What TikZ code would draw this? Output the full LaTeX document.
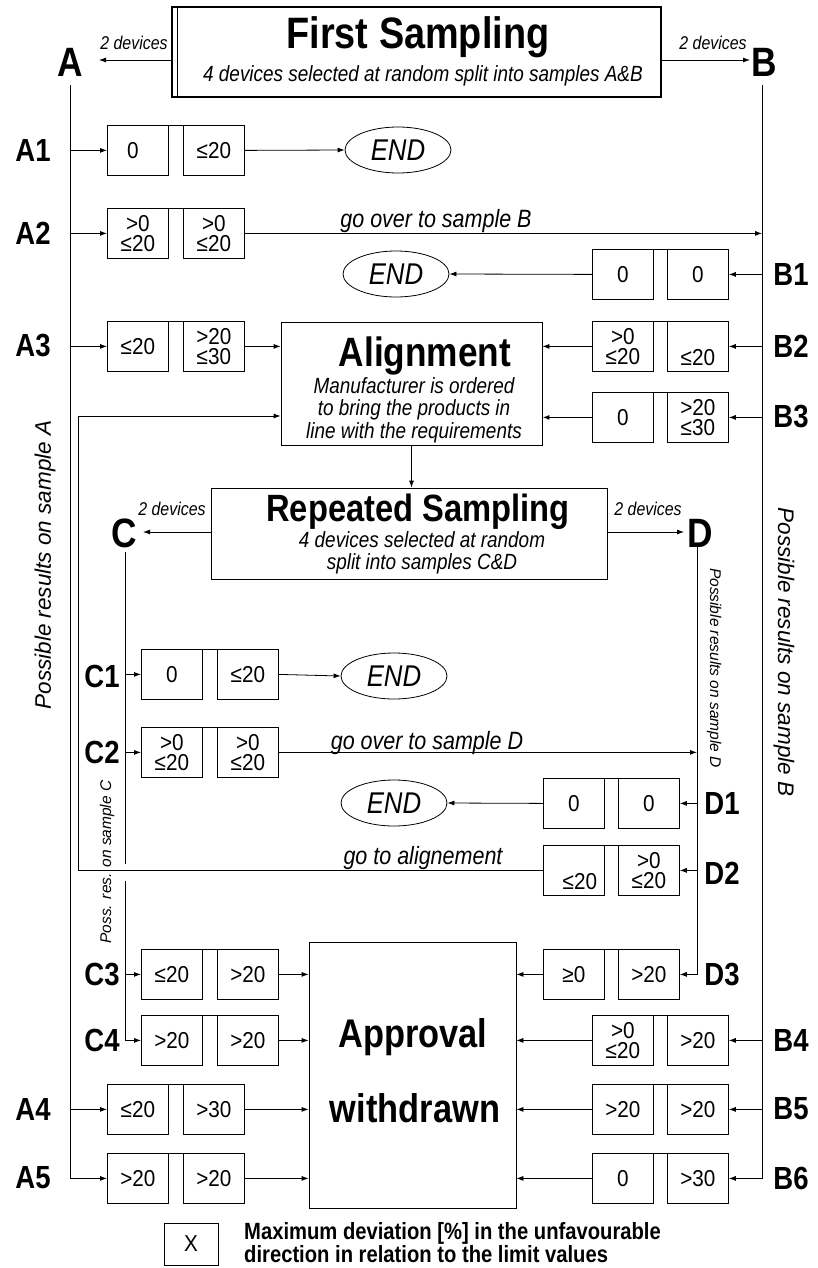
\documentclass[tikz,border=0pt]{standalone}
\usepackage{fontspec}
\setmainfont{Liberation Sans}
\newfontfamily\nrw[FakeStretch=0.86]{Liberation Sans}
\newfontfamily\cellf[FakeStretch=0.9]{Liberation Sans}
\usetikzlibrary{arrows.meta,shapes.geometric}
\tikzset{
 ln/.style={line width=0.8pt},
 arr/.style={ln,-{Latex[length=7pt,width=5pt]}},
 cell/.style={draw,ln,minimum width=61pt,minimum height=50pt,inner sep=0pt,anchor=north west,align=center,font=\cellf\fontsize{23}{20.5}\selectfont},
 bigbox/.style={draw,ln,inner sep=0pt},
 endnode/.style={draw,ln,ellipse,minimum width=106pt,minimum height=46pt,inner sep=0pt,font=\nrw\itshape\fontsize{30}{30}\selectfont},
 rowlab/.style={font=\nrw\bfseries\fontsize{32}{32}\selectfont,inner sep=0pt},
 letter/.style={font=\nrw\bfseries\fontsize{41}{41}\selectfont,inner sep=0pt},
 headtxt/.style={font=\nrw\bfseries\fontsize{#1}{#1}\selectfont,inner sep=0pt,anchor=base},
 subtxt/.style={font=\nrw\itshape\fontsize{22}{22.5}\selectfont,align=center,inner sep=0pt},
 devs/.style={font=\nrw\itshape\fontsize{18.5}{18.5}\selectfont,inner sep=0pt},
 gototxt/.style={font=\nrw\itshape\fontsize{25}{25}\selectfont,inner sep=0pt},
 bigrot/.style={font=\itshape\fontsize{22.5}{22.5}\selectfont,inner sep=0pt},
 smallrot/.style={font=\itshape\fontsize{15.5}{15.5}\selectfont,inner sep=0pt},
}
\begin{document}
\begin{tikzpicture}[x=1pt,y=-1pt]
\useasboundingbox (0,0) rectangle (817,1268);

% ---- main boxes
\node[bigbox,line width=1.6pt,minimum width=489pt,minimum height=90pt] (fs) at (416.5,52) {};
\draw[ln] ([xshift=6pt]fs.north west) -- ([xshift=6pt]fs.south west);
\node[headtxt=44] (fst) at (418,49) {First Sampling};
\node[subtxt] (fss) at (423,76) {4 devices selected at random split into samples A\&B};

\node[bigbox,minimum width=261pt,minimum height=123pt] (al) at (411.5,383.5) {};
\node[headtxt=41] (alt) at (425,366) {Alignment};
\node[subtxt] (als) at (414,410) {Manufacturer is ordered\\to bring the products in\\line with the requirements};

\node[bigbox,minimum width=396pt,minimum height=91pt] (rs) at (409,533.5) {};
\node[headtxt=38] (rst) at (418,521) {Repeated Sampling};
\node[subtxt] (rss) at (422,553) {4 devices selected at random\\split into samples C\&D};

\node[bigbox,minimum width=207pt,minimum height=266pt] (ap) at (412.5,1075) {};
\node[headtxt=40] (apt1) at (413,1047) {Approval};
\node[headtxt=40] (apt2) at (415,1122) {withdrawn};

% ---- letters and device arrows
\node[letter] (Alet) at (70,62) {A};
\node[letter] (Blet) at (764,62) {B};
\node[letter] (Clet) at (124,533) {C};
\node[letter] (Dlet) at (700,533) {D};
\node[devs] (dv1) at (134,43) {2 devices};
\node[devs] (dv2) at (713,43) {2 devices};
\node[devs] (dv3) at (172,509) {2 devices};
\node[devs] (dv4) at (648,509) {2 devices};
\coordinate (Aend) at (99,60);
\coordinate (Bend) at (750,60);
\coordinate (Cend) at (143,532);
\coordinate (Dend) at (684,532);
\draw[arr] (Aend -| fs.west) -- (Aend);
\draw[arr] (Bend -| fs.east) -- (Bend);
\draw[arr] (Cend -| rs.west) -- (Cend);
\draw[arr] (Dend -| rs.east) -- (Dend);
\draw[arr] (al.south) -- (al.south |- rs.north);

% ---- cells
\node[cell] (a1l) at (107,125) {0\hspace*{10pt}};
\node[cell] (a1r) at (183,125) {≤20};
\node[cell] (a2l) at (107,208) {>0\\≤20};
\node[cell] (a2r) at (183,208) {>0\\≤20};
\node[cell] (a3l) at (107,321) {≤20};
\node[cell] (a3r) at (183,321) {>20\\≤30};
\node[cell] (a4l) at (107,1084) {≤20};
\node[cell] (a4r) at (183,1084) {>30};
\node[cell] (a5l) at (107,1153) {>20};
\node[cell] (a5r) at (183,1153) {>20};
\node[cell] (b1l) at (592,249) {0};
\node[cell] (b1r) at (667,249) {0};
\node[cell] (b2l) at (592,321) {>0\\≤20};
\node[cell] (b2r) at (667,321) {\strut\\≤20};
\node[cell] (b3l) at (592,392) {0};
\node[cell] (b3r) at (667,392) {>20\\≤30};
\node[cell] (b4l) at (592,1015) {>0\\≤20};
\node[cell] (b4r) at (667,1015) {>20};
\node[cell] (b5l) at (592,1084) {>20};
\node[cell] (b5r) at (667,1084) {>20};
\node[cell] (b6l) at (592,1153) {0};
\node[cell] (b6r) at (667,1153) {>30};
\node[cell] (c1l) at (141,649) {0};
\node[cell] (c1r) at (217,649) {≤20};
\node[cell] (c2l) at (141,727) {>0\\≤20};
\node[cell] (c2r) at (217,727) {>0\\≤20};
\node[cell] (c3l) at (141,949) {≤20};
\node[cell] (c3r) at (217,949) {>20};
\node[cell] (c4l) at (141,1015) {>20};
\node[cell] (c4r) at (217,1015) {>20};
\node[cell] (d1l) at (543,778) {0};
\node[cell] (d1r) at (618,778) {0};
\node[cell] (d2l) at (543,845) {\strut\\\hspace*{12pt}≤20};
\node[cell] (d2r) at (618,845) {>0\\≤20};
\node[cell] (d3l) at (543,949) {≥0};
\node[cell] (d3r) at (618,949) {>20};
\foreach \p/\q in {a1l/a1r,a2l/a2r,a3l/a3r,a4l/a4r,a5l/a5r,b1l/b1r,b2l/b2r,b3l/b3r,b4l/b4r,b5l/b5r,b6l/b6r,c1l/c1r,c2l/c2r,c3l/c3r,c4l/c4r,d1l/d1r,d2l/d2r,d3l/d3r}
  \draw[ln] (\p.north east) -- (\q.north west);

% ---- END ellipses
\node[endnode] (e1) at (398,150) {END};
\node[endnode] (e2) at (396,274) {END};
\node[endnode] (e3) at (394,676) {END};
\node[endnode] (e4) at (394,803) {END};

% ---- row labels
\node[rowlab] (lA1) at (33,150) {A1};
\node[rowlab] (lA2) at (33,233) {A2};
\node[rowlab] (lA3) at (33,346) {A3};
\node[rowlab] (lA4) at (33,1109) {A4};
\node[rowlab] (lA5) at (33,1178) {A5};
\node[rowlab] (lB1) at (791,274) {B1};
\node[rowlab] (lB2) at (791,346) {B2};
\node[rowlab] (lB3) at (791,417) {B3};
\node[rowlab] (lB4) at (791,1040) {B4};
\node[rowlab] (lB5) at (791,1109) {B5};
\node[rowlab] (lB6) at (791,1178) {B6};
\node[rowlab] (lC1) at (102,676) {C1};
\node[rowlab] (lC2) at (102,752) {C2};
\node[rowlab] (lC3) at (102,974) {C3};
\node[rowlab] (lC4) at (102,1040) {C4};
\node[rowlab] (lD1) at (722,803) {D1};
\node[rowlab] (lD2) at (722,873) {D2};
\node[rowlab] (lD3) at (722,974) {D3};

% ---- vertical lines
\coordinate (Atop) at (70,85);
\coordinate (Btop) at (762,85);
\coordinate (Ctop) at (125,552);
\coordinate (Cg1) at (125,864);
\coordinate (Cg2) at (125,881);
\coordinate (Dtop) at (697,547);
\coordinate (Lc) at (78,416);
\draw[arr] (Atop) |- (a5l.west);
\draw[arr] (Btop) |- (b6r.east);
\draw[ln] (Ctop) -- (Cg1);
\draw[arr] (Cg2) |- (c4l.west);
\draw[arr] (Dtop) |- (d3r.east);

% ---- branches A
\draw[arr] (a1l.west -| Atop) -- (a1l.west);
\draw[arr] (a2l.west -| Atop) -- (a2l.west);
\draw[arr] (a3l.west -| Atop) -- (a3l.west);
\draw[arr] (a4l.west -| Atop) -- (a4l.west);
\draw[arr] (a1r.east) -- (e1.west);
\draw[arr] (a2r.east) -- (a2r.east -| Btop);
\draw[arr] (a3r.east) -- (a3r.east -| al.west);
\draw[arr] (a4r.east) -- (a4r.east -| ap.west);
\draw[arr] (a5r.east) -- (a5r.east -| ap.west);
\node[gototxt] (gB) at (436,221) {go over to sample B};

% ---- branches B
\draw[arr] (b1r.east -| Btop) -- (b1r.east);
\draw[arr] (b2r.east -| Btop) -- (b2r.east);
\draw[arr] (b3r.east -| Btop) -- (b3r.east);
\draw[arr] (b4r.east -| Btop) -- (b4r.east);
\draw[arr] (b5r.east -| Btop) -- (b5r.east);
\draw[arr] (b1l.west) -- (e2.east);
\draw[arr] (b2l.west) -- (b2l.west -| al.east);
\draw[arr,line width=1.8pt] (b3l.west) -- (b3l.west -| al.east);
\draw[arr] (b4l.west) -- (b4l.west -| ap.east);
\draw[arr] (b5l.west) -- (b5l.west -| ap.east);
\draw[arr] (b6l.west) -- (b6l.west -| ap.east);

% ---- branches C
\draw[arr] (c1l.west -| Ctop) -- (c1l.west);
\draw[arr] (c2l.west -| Ctop) -- (c2l.west);
\draw[arr] (c3l.west -| Ctop) -- (c3l.west);
\draw[arr] (c1r.east) -- (e3.west);
\draw[arr] (c2r.east) -- (c2r.east -| Dtop);
\draw[arr] (c3r.east) -- (c3r.east -| ap.west);
\draw[arr] (c4r.east) -- (c4r.east -| ap.west);
\node[gototxt] (gD) at (427,743) {go over to sample D};

% ---- branches D
\draw[arr] (d1r.east -| Dtop) -- (d1r.east);
\draw[arr] (d2r.east -| Dtop) -- (d2r.east);
\draw[arr] (d1l.west) -- (e4.east);
\draw[arr] (d3l.west) -- (d3l.west -| ap.east);
\draw[arr] (d2l.west) -| (Lc) -- (Lc -| al.west);
\node[gototxt] (gA) at (423,858) {go to alignement};

% ---- rotated captions
\node[bigrot,rotate=90] (pA) at (45,565) {Possible results on sample A};
\node[bigrot,rotate=-90] (pB) at (784,652) {Possible results on sample B};
\node[smallrot,rotate=-90] (pD) at (714,668) {Possible results on sample D};
\node[smallrot,rotate=90] (pC) at (107,862) {Poss. res. on sample C};

% ---- legend
\node[bigbox,minimum width=54pt,minimum height=42pt,font=\cellf\fontsize{23}{23}\selectfont] (leg) at (191,1244) {X};
\node[anchor=west,align=left,inner sep=0pt,font=\nrw\bfseries\fontsize{23.5}{21}\selectfont] (legt) at (244,1243) {Maximum deviation [\%] in the unfavourable\\direction in relation to the limit values};
\end{tikzpicture}
\end{document}
